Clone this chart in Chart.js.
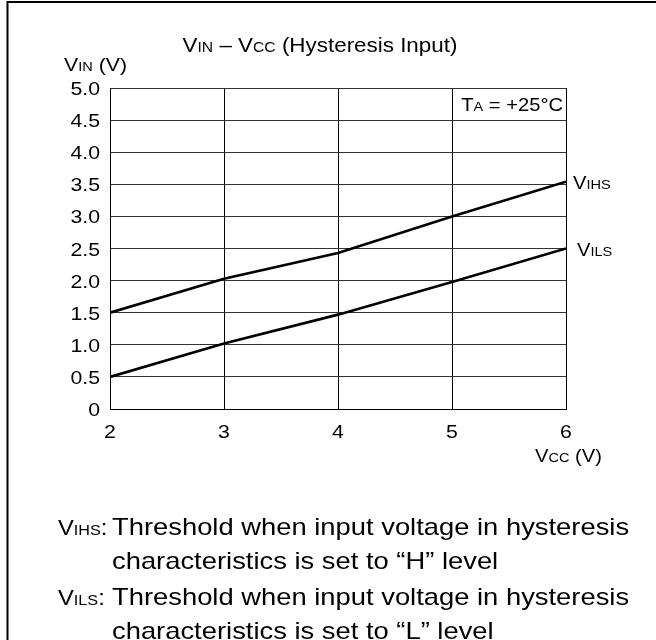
<!DOCTYPE html>
<html>
<head>
<meta charset="utf-8">
<script src="https://cdn.jsdelivr.net/npm/chart.js@4"></script>
<style>
  html, body { margin: 0; padding: 0; background: #fff; }
  #wrap { position: relative; width: 656px; height: 640px; }
</style>
</head>
<body>
<div id="wrap"><canvas id="vinChart" width="656" height="640"></canvas></div>
<script>
// Supply voltage (x) and threshold voltages (y)
const vcc = [2, 3, 4, 5, 6];
const vihs = [1.5, 2.03, 2.43, 3.0, 3.54];
const vils = [0.5, 1.02, 1.47, 1.98, 2.5];

const xTicks = [2, 3, 4, 5, 6];
const yTicks = [0, 0.5, 1, 1.5, 2, 2.5, 3, 3.5, 4, 4.5, 5];

const FONT = "'Liberation Sans', Arial, sans-serif";
const SX = 1.12; // glyphs are a little wide in this figure

const toPoints = ys => vcc.map((x, i) => ({ x, y: ys[i] }));

// text made of runs with their own sizes, e.g. "V" + small "IN"
function richText(ctx, parts, x, y, align, sx = SX) {
  let total = 0;
  parts.forEach(([t, s]) => { ctx.font = `${s}px ${FONT}`; total += ctx.measureText(t).width * sx; });
  let cx = align === 'center' ? x - total / 2 : (align === 'right' ? x - total : x);
  ctx.textAlign = 'left';
  ctx.textBaseline = 'alphabetic';
  parts.forEach(([t, s]) => {
    ctx.font = `${s}px ${FONT}`;
    ctx.save();
    ctx.translate(cx, y);
    ctx.scale(sx, 1);
    ctx.fillText(t, 0, 0);
    ctx.restore();
    cx += ctx.measureText(t).width * sx;
  });
}

const annotations = {
  id: 'annotations',
  afterDraw(chart) {
    const { ctx, scales } = chart;
    const xs = scales.x, ys = scales.y;
    ctx.save();
    ctx.fillStyle = '#000';

    // frame (top and left edges)
    ctx.strokeStyle = '#000';
    ctx.lineWidth = 2;
    ctx.beginPath();
    ctx.moveTo(656, 2);
    ctx.lineTo(7.5, 2);
    ctx.lineTo(7.5, 640);
    ctx.stroke();

    // tick labels
    yTicks.forEach(v => {
      richText(ctx, [[v === 0 ? '0' : v.toFixed(1), 19]], xs.left - 10, ys.getPixelForValue(v) + 7, 'right');
    });
    xTicks.forEach(v => {
      richText(ctx, [[String(v), 19]], xs.getPixelForValue(v), 438, 'center');
    });

    richText(ctx, [['V', 20], ['IN', 14], [' – V', 20], ['CC', 14], [' (Hysteresis Input)', 20]], 320, 52, 'center');
    richText(ctx, [['V', 19], ['IN', 13], [' (V)', 19]], 64, 71, 'left');
    richText(ctx, [['V', 18], ['CC', 13], [' (V)', 18]], 535, 462, 'left');
    richText(ctx, [['T', 18], ['A', 13], [' = +25°C', 18]], xs.getPixelForValue(6) - 3, ys.getPixelForValue(4.5) - 9, 'right');

    // series labels at the right end
    richText(ctx, [['V', 18], ['IHS', 13]], xs.getPixelForValue(6) + 7, ys.getPixelForValue(vihs[vihs.length - 1]) + 7, 'left');
    richText(ctx, [['V', 18], ['ILS', 13]], xs.getPixelForValue(6) + 11, ys.getPixelForValue(vils[vils.length - 1]) + 7, 'left');

    // notes below the chart
    richText(ctx, [['V', 22], ['IHS', 15], [':', 22]], 58, 535, 'left', 1.08);
    richText(ctx, [['Threshold when input voltage in hysteresis', 24]], 112, 535, 'left', 1.14);
    richText(ctx, [['characteristics is set to “H” level', 24]], 112, 569, 'left', 1.14);
    richText(ctx, [['V', 22], ['ILS', 15], [':', 22]], 58, 605, 'left', 1.08);
    richText(ctx, [['Threshold when input voltage in hysteresis', 24]], 112, 605, 'left', 1.14);
    richText(ctx, [['characteristics is set to “L” level', 24]], 112, 639, 'left', 1.14);
    ctx.restore();
  }
};

new Chart(document.getElementById('vinChart'), {
  type: 'scatter',
  data: {
    datasets: [
      { label: 'VIHS', data: toPoints(vihs), showLine: true, borderColor: '#000', borderWidth: 2.6, pointRadius: 0, tension: 0 },
      { label: 'VILS', data: toPoints(vils), showLine: true, borderColor: '#000', borderWidth: 2.6, pointRadius: 0, tension: 0 }
    ]
  },
  options: {
    responsive: false,
    animation: false,
    devicePixelRatio: 1,
    layout: { padding: { left: 0, top: 88, right: 90, bottom: 0 } },
    plugins: { legend: { display: false }, tooltip: { enabled: false }, title: { display: false } },
    scales: {
      x: {
        type: 'linear', min: 2, max: 6,
        afterFit: s => { s.height = 231; },
        afterBuildTicks: s => { s.ticks = xTicks.map(v => ({ value: v })); },
        grid: { color: '#000', lineWidth: 1, drawTicks: false },
        border: { color: '#000', width: 1 },
        ticks: { display: false }
      },
      y: {
        min: 0, max: 5,
        afterFit: s => { s.width = 110; },
        afterBuildTicks: s => { s.ticks = yTicks.map(v => ({ value: v })); },
        grid: { color: '#333', lineWidth: 1, drawTicks: false },
        border: { color: '#000', width: 1 },
        ticks: { display: false }
      }
    }
  },
  plugins: [annotations]
});
</script>
</body>
</html>
